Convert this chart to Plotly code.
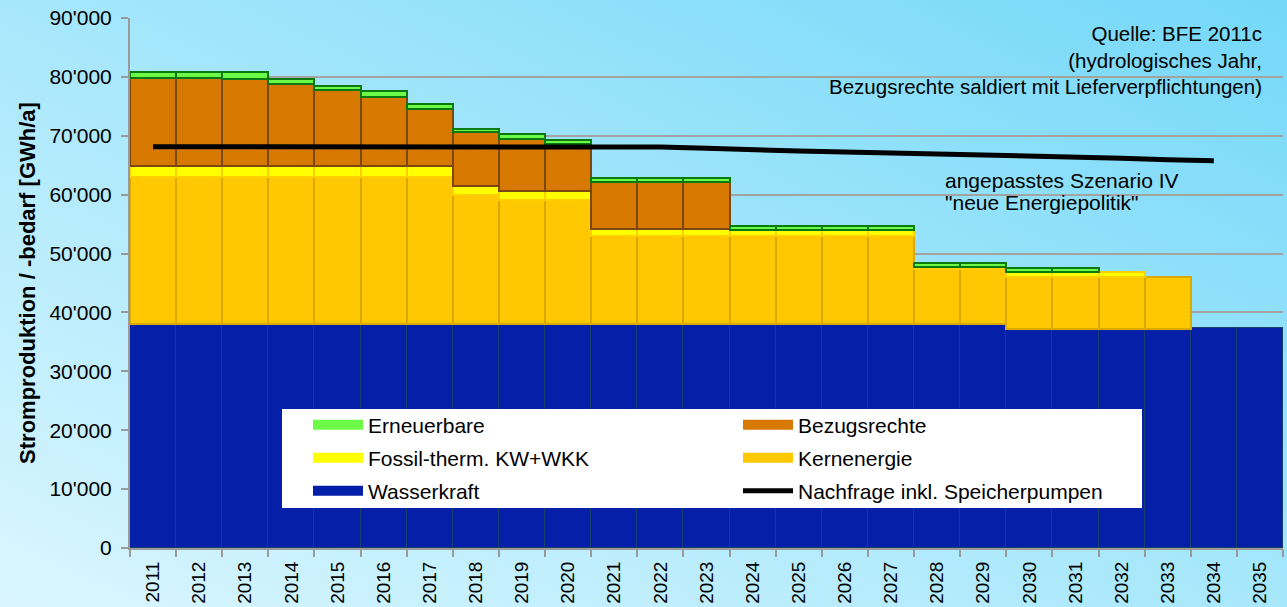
import base64
import plotly.graph_objects as go

# ---------------- data ----------------
years = ["2011", "2012", "2013", "2014", "2015", "2016", "2017", "2018", "2019", "2020",
         "2021", "2022", "2023", "2024", "2025", "2026", "2027", "2028", "2029", "2030",
         "2031", "2032", "2033", "2034", "2035"]

wasserkraft = [38000, 38000, 38000, 38000, 38000, 38000, 38000, 38000, 38000, 38000,
               38000, 38000, 38000, 38000, 38000, 38000, 38000, 38000, 38000, 37200,
               37200, 37200, 37200, 37400, 37400]
kernenergie = [25000, 25000, 25000, 25000, 25000, 25000, 25000, 22000, 21100, 21100,
               15000, 15000, 15000, 15000, 15000, 15000, 15000, 9300, 9300, 8900,
               8900, 8900, 8900, 0, 0]
fossil = [1800, 1800, 1800, 1800, 1800, 1800, 1800, 1500, 1500, 1500,
          1200, 1200, 1200, 1000, 1000, 1000, 1000, 500, 500, 700,
          700, 800, 0, 0, 0]
bezugsrechte = [15000, 15000, 14900, 14000, 12900, 11800, 9700, 9100, 8900, 8050,
                7950, 7950, 7900, 0, 0, 0, 0, 0, 0, 0,
                0, 0, 0, 0, 0]
erneuerbare = [1000, 1000, 1200, 850, 800, 950, 850, 600, 850, 600,
               650, 650, 700, 650, 600, 600, 600, 650, 650, 700,
               700, 0, 0, 0, 0]

nachfrage_years = ["2011", "2012", "2013", "2014", "2015", "2016", "2017", "2018", "2019", "2020",
                   "2021", "2022", "2023", "2024", "2025", "2026", "2027", "2028", "2029", "2030",
                   "2031", "2032", "2033", "2034"]
nachfrage = [68150, 68150, 68150, 68150, 68150, 68150, 68150, 68150, 68150, 68150,
             68150, 68100, 67900, 67600, 67400, 67250, 67100, 66950, 66650, 66450,
             66350, 66200, 65950, 65750]

y_tickvals = [0, 10000, 20000, 30000, 40000, 50000, 60000, 70000, 80000, 90000]
y_ticktext = ["0", "10'000", "20'000", "30'000", "40'000", "50'000", "60'000", "70'000", "80'000", "90'000"]

# ---------------- styling ----------------
FONT = "Liberation Sans, Arial, sans-serif"
W, H = 1287, 607
ML, MR, MT, MB = 130, 4, 18, 59
PW, PH = W - ML - MR, H - MT - MB


def px_x(px):
    return (px - ML) / PW


def px_y(py):
    return (H - MB - py) / PH


series = [
    ("Wasserkraft", wasserkraft, "#0520a8", "#18406a", 1),
    ("Kernenergie", kernenergie, "#ffc800", "#d9a900", 2),
    ("Fossil-therm. KW+WKK", fossil, "#ffff00", "#ffcf00", 2),
    ("Bezugsrechte", bezugsrechte, "#d77800", "#7a4810", 2),
    ("Erneuerbare", erneuerbare, "#6cfc48", "#0a7a10", 2),
]

fig = go.Figure()
for name, vals, fill, edge, lw in series:
    fig.add_trace(go.Bar(
        x=years, y=[v if v else None for v in vals], name=name, showlegend=False,
        marker=dict(color=fill, line=dict(color=edge, width=lw)),
    ))

fig.add_trace(go.Scatter(
    x=nachfrage_years, y=nachfrage, mode="lines", name="Nachfrage inkl. Speicherpumpen",
    line=dict(color="black", width=5), legend="legend3", legendrank=2000,
))

# legend entries (legend-only swatches)
legend_items = [
    ("Erneuerbare", "#6cfc48", "legend"),
    ("Bezugsrechte", "#d77800", "legend"),
    ("Fossil-therm. KW+WKK", "#ffff00", "legend2"),
    ("Kernenergie", "#ffc800", "legend2"),
    ("Wasserkraft", "#0520a8", "legend3"),
]
for name, col, lg in legend_items:
    fig.add_trace(go.Scatter(
        x=[None], y=[None], mode="lines", name=name,
        line=dict(color=col, width=10), legend=lg, hoverinfo="skip", legendrank=1000,
    ))

# background gradient
svg = ('<svg xmlns="http://www.w3.org/2000/svg" width="1287" height="607">'
       '<defs><linearGradient id="g" x1="0" y1="1" x2="1" y2="0">'
       '<stop offset="0" stop-color="#daf6ff"/><stop offset="1" stop-color="#74d8f8"/>'
       '</linearGradient></defs><rect width="1287" height="607" fill="url(#g)"/></svg>')
uri = "data:image/svg+xml;base64," + base64.b64encode(svg.encode()).decode()
fig.add_layout_image(dict(
    source=uri, xref="paper", yref="paper", x=-ML / PW, y=1 + MT / PH,
    sizex=W / PW, sizey=H / PH, xanchor="left", yanchor="top",
    sizing="stretch", layer="below",
))

# white legend box
fig.add_shape(type="rect", xref="paper", yref="paper",
              x0=px_x(282), x1=px_x(1142), y0=px_y(508), y1=px_y(409),
              fillcolor="white", line=dict(width=0), layer="above")

leg_common = dict(orientation="h", xanchor="left", yanchor="middle", x=px_x(308),
                  bgcolor="rgba(0,0,0,0)", borderwidth=0, itemwidth=50,
                  entrywidth=365, font=dict(family=FONT, size=21, color="black"),
                  traceorder="normal")

fig.update_layout(
    width=W, height=H,
    margin=dict(l=ML, r=MR, t=MT, b=MB, pad=0),
    paper_bgcolor="#a8e6fb",
    plot_bgcolor="rgba(0,0,0,0)",
    barmode="stack", bargap=0,
    font=dict(family=FONT, color="black"),
    legend=dict(y=px_y(425), **leg_common),
    legend2=dict(y=px_y(458), **leg_common),
    legend3=dict(y=px_y(491), **leg_common),
    xaxis=dict(
        type="category", range=[-0.5, 24.5], tickangle=-90, tickson="boundaries",
        ticks="outside", ticklen=7, tickcolor="#9a9a9a", tickwidth=2,
        showline=True, linecolor="#9a9a9a", linewidth=2, showgrid=False,
        tickfont=dict(family=FONT, size=19, color="black"), automargin=False,
        ticklabelstandoff=4,
    ),
    yaxis=dict(
        range=[0, 90000], tickvals=y_tickvals, ticktext=y_ticktext,
        ticks="outside", ticklen=7, tickcolor="#9a9a9a", tickwidth=2,
        showline=True, linecolor="#9a9a9a", linewidth=2,
        showgrid=True, gridcolor="#a3a3a3", gridwidth=2, zeroline=False,
        tickfont=dict(family=FONT, size=21, color="black"), automargin=False,
        ticklabelstandoff=5,
        title=dict(text="<b>Stromproduktion / -bedarf [GWh/a]</b>",
                   font=dict(family=FONT, size=22, color="black"), standoff=8),
    ),
    annotations=[
        dict(text="Quelle: BFE 2011c<br>(hydrologisches Jahr,<br>Bezugsrechte saldiert mit Lieferverpflichtungen)",
             xref="paper", yref="paper", x=px_x(1264), y=px_y(20), xanchor="right", yanchor="top",
             align="right", showarrow=False, font=dict(family=FONT, size=20.5, color="black")),
        dict(text="angepasstes Szenario IV",
             xref="paper", yref="paper", x=px_x(943), y=px_y(180), xanchor="left", yanchor="middle",
             align="left", showarrow=False, font=dict(family=FONT, size=21, color="black")),
        dict(text="\"neue Energiepolitik\"",
             xref="paper", yref="paper", x=px_x(943), y=px_y(202), xanchor="left", yanchor="middle",
             align="left", showarrow=False, font=dict(family=FONT, size=21, color="black")),
    ],
)

fig.write_html("out.html", config={"displayModeBar": False},
               post_script="document.body.style.margin='0px';")
